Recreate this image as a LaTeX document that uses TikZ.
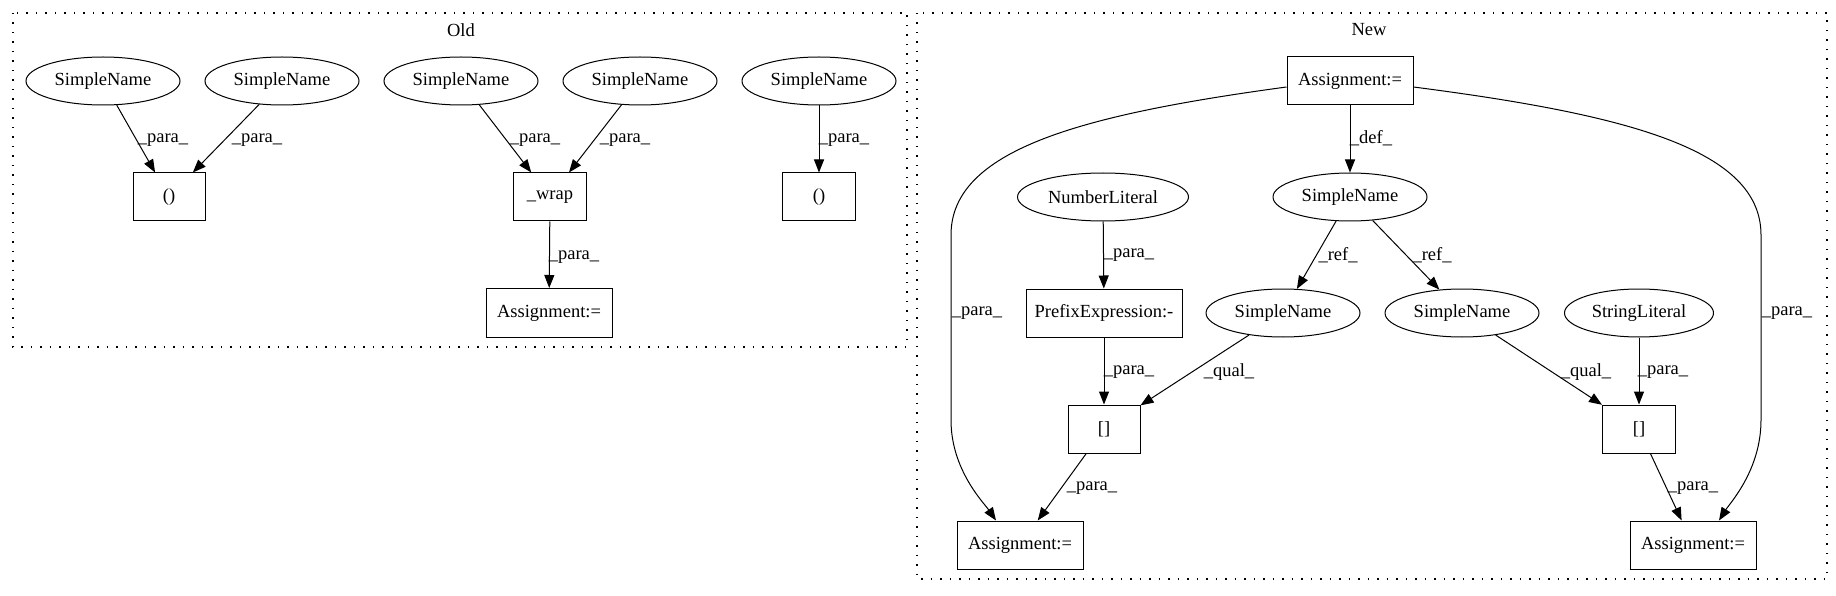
\documentclass[tikz,border=0pt]{standalone}
\usepackage{fontspec}
\setmainfont{Liberation Serif}
\usetikzlibrary{shapes.geometric,arrows.meta}
\begin{document}
\begin{tikzpicture}[x=1pt,y=-1pt,
  every node/.style={font=\fontsize{18.5}{22}\selectfont},
  ell/.style={draw,ellipse,line width=1pt,inner sep=0pt,minimum height=48pt},
  box/.style={draw,rectangle,line width=1pt,inner sep=0pt,minimum height=48pt},
  arr/.style={line width=1pt,-{Triangle[length=13pt,width=10pt]}},
  lab/.style={inner sep=0pt},
  clus/.style={line width=1.2pt,dash pattern=on 1.5pt off 8pt}]
\useasboundingbox (0,0) rectangle (1836,596);
% clusters
\draw[clus] (13,13) rectangle (907,347);
\node[lab] (oldlab) at (461,30) {Old};
\draw[clus] (917,13) rectangle (1827,579);
\node[lab] (newlab) at (1369,30) {New};
% Old nodes
\node[ell,minimum width=154pt] (e1) at (103,81) {SimpleName};
\node[ell,minimum width=154pt] (e2) at (282,81) {SimpleName};
\node[ell,minimum width=154pt] (e3) at (461,81) {SimpleName};
\node[ell,minimum width=154pt] (e4) at (640,81) {SimpleName};
\node[ell,minimum width=154pt] (e5) at (819,81) {SimpleName};
\node[box,minimum width=72pt] (b1) at (169,197) {()};
\node[box,minimum width=73pt] (wrap) at (550,197) {\_wrap};
\node[box,minimum width=73pt] (b3) at (819,197) {()};
\node[box,minimum width=126pt,minimum height=49pt] (aold) at (549,313) {Assignment:=};
\draw[arr] (e1) -- (b1);
\draw[arr] (e2) -- (b1);
\draw[arr] (e3) -- (wrap);
\draw[arr] (e4) -- (wrap);
\draw[arr] (e5) -- (b3);
\draw[arr] (wrap) -- (aold);
\node[lab] at (163,140) {\_para\_};
\node[lab] at (257,140) {\_para\_};
\node[lab] at (535,140) {\_para\_};
\node[lab] at (625,140) {\_para\_};
\node[lab] at (844,140) {\_para\_};
\node[lab] at (574,257) {\_para\_};
% New nodes
\node[box,minimum width=126pt] (atop) at (1350,81) {Assignment:=};
\node[ell,minimum width=154pt] (smid) at (1350,197) {SimpleName};
\node[ell,minimum width=171pt] (numlit) at (1103,197) {NumberLiteral};
\node[box,minimum width=156pt] (prefix) at (1104,313) {PrefixExpression:-};
\node[ell,minimum width=154pt] (ref1) at (1283,313) {SimpleName};
\node[ell,minimum width=154pt] (ref2) at (1462,313) {SimpleName};
\node[ell,minimum width=149pt] (strlit) at (1639,313) {StringLiteral};
\node[box,minimum width=72pt] (idxl) at (1104,429) {[]};
\node[box,minimum width=73pt] (idxr) at (1639,429) {[]};
\node[box,minimum width=126pt] (abl) at (1020,545) {Assignment:=};
\node[box,minimum width=126pt] (abr) at (1693,545) {Assignment:=};
\draw[arr] (atop) -- (smid);
\draw[arr] (numlit) -- (prefix);
\draw[arr] (smid) -- (ref1);
\draw[arr] (smid) -- (ref2);
\draw[arr] (prefix) -- (idxl);
\draw[arr] (ref1) -- (idxl);
\draw[arr] (ref2) -- (idxr);
\draw[arr] (strlit) -- (idxr);
\draw[arr] (idxl) -- (abl);
\draw[arr] (idxr) -- (abr);
\draw[arr] ([yshift=-6pt]atop.west) .. controls (1080,115) and (951,150) .. (951,235) -- (951,420) .. controls (951,470) and (984,503) .. ([xshift=-24pt]abl.north);
\draw[arr] ([yshift=-6pt]atop.east) .. controls (1630,115) and (1761,150) .. (1761,235) -- (1761,420) .. controls (1761,470) and (1730,503) .. ([xshift=26pt]abr.north);
\node[lab] at (1371,138) {\_def\_};
\node[lab] at (1129,255) {\_para\_};
\node[lab] at (1338,255) {\_ref\_};
\node[lab] at (1432,255) {\_ref\_};
\node[lab] at (977,313) {\_para\_};
\node[lab] at (1787,313) {\_para\_};
\node[lab] at (1129,372) {\_para\_};
\node[lab] at (1229,372) {\_qual\_};
\node[lab] at (1586,372) {\_qual\_};
\node[lab] at (1663,372) {\_para\_};
\node[lab] at (1092,488) {\_para\_};
\node[lab] at (1693,488) {\_para\_};
\end{tikzpicture}
\end{document}
